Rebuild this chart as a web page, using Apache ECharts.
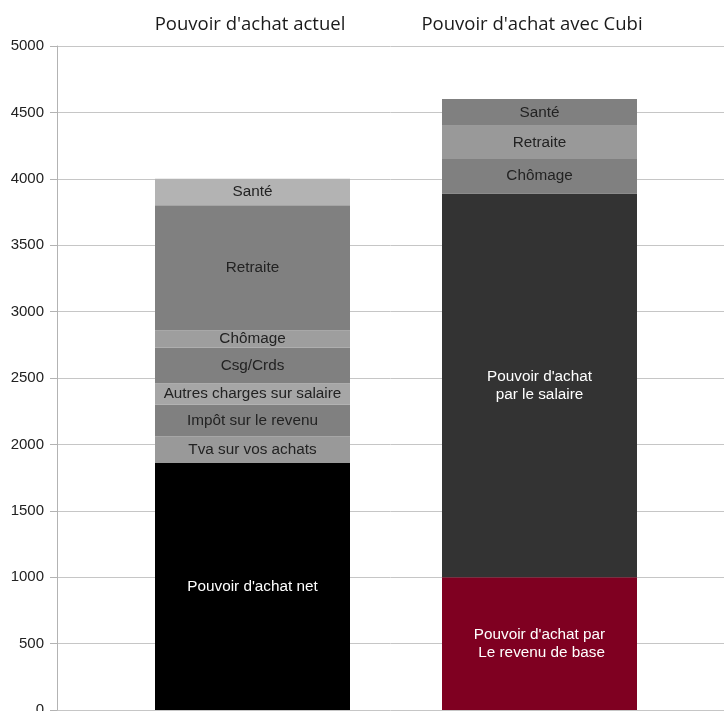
<!DOCTYPE html>
<html>
<head>
<meta charset="utf-8">
<script src="https://cdn.jsdelivr.net/npm/echarts@6/dist/echarts.min.js"></script>
<style>
html,body{margin:0;padding:0;background:#fff;}
#chart{width:724px;height:711px;}
</style>
</head>
<body>
<div id="chart"></div>
<script>
const categories = ["Pouvoir d'achat actuel", "Pouvoir d'achat avec Cubi"];
const yTicks = [0, 500, 1000, 1500, 2000, 2500, 3000, 3500, 4000, 4500, 5000];

// segment names (bottom to top) and values for [actuel, avec Cubi]
const segNames = ["Pouvoir d'achat net", "Pouvoir d'achat par\n Le revenu de base", "Pouvoir d'achat\npar le salaire",
  "Tva sur vos achats", "Impôt sur le revenu", "Autres charges sur salaire", "Csg/Crds", "Chômage", "Retraite", "Santé"];
const netValues      = [1860, '-'];
const baseValues     = ['-', 1000];
const salaireValues  = ['-', 2890];
const tvaValues      = [200, '-'];
const impotValues    = [240, '-'];
const autresValues   = [160, '-'];
const csgValues      = [270, '-'];
const chomageValues  = [130, 260];
const retraiteValues = [940, 250];
const santeValues    = [200, 200];

const segValues = [netValues, baseValues, salaireValues, tvaValues, impotValues, autresValues, csgValues, chomageValues, retraiteValues, santeValues];
const segColors = [
  ['#000000', '#000000'],
  ['#7f0021', '#7f0021'],
  ['#333333', '#333333'],
  ['#999999', '#999999'],
  ['#808080', '#808080'],
  ['#a6a6a6', '#a6a6a6'],
  ['#808080', '#808080'],
  ['#9e9e9e', '#808080'],
  ['#808080', '#999999'],
  ['#b3b3b3', '#808080']
];
const labelColors = ['#ffffff', '#ffffff', '#ffffff', '#222', '#222', '#222', '#222', '#222', '#222', '#222'];

const series = segNames.map((name, i) => ({
  name: name,
  type: 'bar',
  stack: 'total',
  xAxisIndex: 1,
  yAxisIndex: 1,
  barWidth: 195,
  data: segValues[i].map((v, j) => ({ value: v, itemStyle: { color: segColors[i][j] } })),
  label: {
    show: true,
    position: 'inside',
    formatter: name,
    color: labelColors[i],
    fontFamily: 'Liberation Sans, Arial, sans-serif',
    fontSize: 15.3,
    lineHeight: 18,
    textBorderWidth: 0
  },
  emphasis: { disabled: true }
}));

const chart = echarts.init(document.getElementById('chart'), null, { renderer: 'canvas' });
chart.setOption({
  animation: false,
  backgroundColor: '#ffffff',
  grid: [
    { left: 57, right: 0, top: 46, bottom: 1, outerBoundsMode: 'none', containLabel: false },
    { left: 109, right: 41, top: 46, bottom: 1, outerBoundsMode: 'none', containLabel: false }
  ],
  xAxis: [
    { type: 'value', gridIndex: 0, show: false, min: 0, max: 1 },
    {
      type: 'category', gridIndex: 1, position: 'top', data: categories,
      axisLine: { show: false }, axisTick: { show: false },
      axisLabel: {
        interval: 0, hideOverlap: false,
        fontFamily: 'Open Sans, sans-serif', fontSize: 18.5, color: '#1a1a1a', margin: 12,
        formatter: (v, i) => (i === 0 ? '{a|' : '{b|') + v + '}',
        rich: {
          a: { fontFamily: 'Open Sans, sans-serif', fontSize: 18.5, color: '#1a1a1a', padding: [0, 5, 0, 0] },
          b: { fontFamily: 'Open Sans, sans-serif', fontSize: 18.5, color: '#1a1a1a', padding: [0, 15, 0, 0] }
        }
      }
    }
  ],
  yAxis: [
    {
      type: 'value', gridIndex: 0, min: yTicks[0], max: yTicks[yTicks.length - 1], interval: 500,
      axisLine: { show: true, lineStyle: { color: '#b3b3b3', width: 1 } },
      axisTick: { show: true, length: 7, lineStyle: { color: '#b3b3b3' } },
      axisLabel: { fontFamily: 'Liberation Sans, Arial, sans-serif', fontSize: 15, color: '#222', margin: 13, formatter: v => String(v) },
      splitLine: { show: true, lineStyle: { color: '#c6c6c6', width: 1 } }
    },
    { type: 'value', gridIndex: 1, min: 0, max: 5000, interval: 500, show: false, splitLine: { show: false } }
  ],
  series: series
});
</script>
</body>
</html>
